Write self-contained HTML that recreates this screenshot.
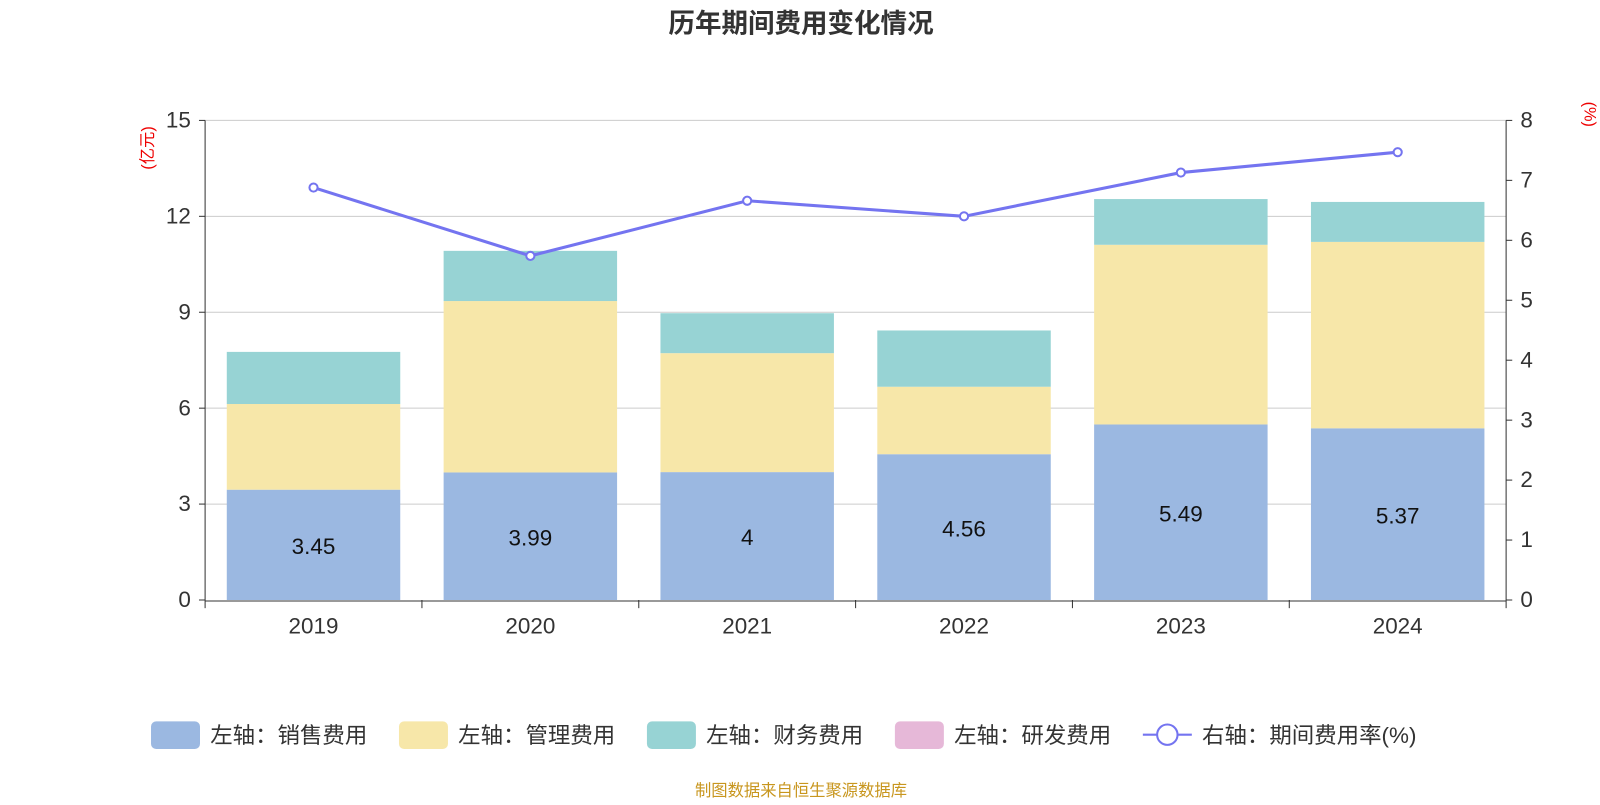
<!DOCTYPE html>
<html><head><meta charset="utf-8">
<style>
html,body{margin:0;padding:0;background:#fff;}
body{width:1600px;height:800px;overflow:hidden;font-family:"Liberation Sans","Noto Sans CJK SC",sans-serif;}
</style></head>
<body>
<svg id="chart" width="1600" height="800" xmlns="http://www.w3.org/2000/svg" font-family="Liberation Sans, Noto Sans CJK SC, sans-serif">
<g transform="scale(1.0204)">
<text x="785" y="32" text-anchor="middle" font-size="26" font-weight="bold" fill="#333">历年期间费用变化情况</text>
<text transform="translate(150,145) rotate(-90)" text-anchor="middle" font-size="16" fill="#e00">(亿元)</text>
<text transform="translate(1553,112) rotate(90)" text-anchor="middle" font-size="16" fill="#e00">(%)</text>
<g id="grid"></g><g id="bars"></g><g id="line"></g><g id="axes"></g>
<g id="legend"></g>
<text x="785" y="780" text-anchor="middle" font-size="16" fill="#c8961e">制图数据来自恒生聚源数据库</text>
</g>
</svg>
<script>
const categories=["2019","2020","2021","2022","2023","2024"];
const sales=[3.45,3.99,4,4.56,5.49,5.37];
const mgmt=[2.68,5.36,3.72,2.11,5.62,5.83];
const finance=[1.63,1.57,1.25,1.76,1.43,1.25];
const rnd=[0,0,0,0,0,0];
const rate=[6.88,5.74,6.66,6.40,7.13,7.47];
const leftTicks=[0,3,6,9,12,15];
const rightTicks=[0,1,2,3,4,5,6,7,8];

const NS="http://www.w3.org/2000/svg";
const X0=201,X1=1476,Y0=588,Y1=118;
const bw=(X1-X0)/categories.length;
const yL=v=>Y0-(v/15)*(Y0-Y1);
const yR=v=>Y0-(v/8)*(Y0-Y1);
const xc=i=>X0+bw*(i+0.5);
function mk(tag,attrs,parent,txt){const e=document.createElementNS(NS,tag);for(const k in attrs)e.setAttribute(k,attrs[k]);if(txt!==undefined)e.textContent=txt;document.getElementById(parent).appendChild(e);return e;}

leftTicks.forEach(v=>{
 if(v>0){const g=mk('line',{x1:X0,x2:X1,y1:yL(v),y2:yL(v),stroke:'#ccc','stroke-width':1},'grid');
 
 }
 const t=mk('text',{x:X0-14,y:yL(v)+7,'text-anchor':'end','font-size':22,fill:'#333'},'axes',v);
 
 
 mk('line',{x1:X0-6,x2:X0,y1:yL(v),y2:yL(v),stroke:'#333'},'axes');
});
rightTicks.forEach(v=>{
 const t=mk('text',{x:X1+14,y:yR(v)+7,'text-anchor':'start','font-size':22,fill:'#333'},'axes',v);
 
 
 mk('line',{x1:X1,x2:X1+6,y1:yR(v),y2:yR(v),stroke:'#333'},'axes');
});
mk('line',{x1:X0,x2:X0,y1:Y1,y2:Y0,stroke:'#333'},'axes');
mk('line',{x1:X1,x2:X1,y1:Y1,y2:Y0,stroke:'#333'},'axes');
mk('line',{x1:X0,x2:X1,y1:Y0+1,y2:Y0+1,stroke:'#333'},'axes');
for(let i=0;i<=categories.length;i++)mk('line',{x1:X0+bw*i,x2:X0+bw*i,y1:Y0,y2:Y0+8,stroke:'#333'},'axes');
categories.forEach((c,i)=>{
 const t=mk('text',{x:xc(i),y:621,'text-anchor':'middle','font-size':22,fill:'#333'},'axes',c);
 
 
});

const series=[[sales,'#9bb8e1','sales'],[mgmt,'#f7e7a9','mgmt'],[finance,'#97d3d4','finance'],[rnd,'#e6b8d8','rnd']];
const W=170;
categories.forEach((c,i)=>{
 let base=0;
 series.forEach(([arr,col,nm])=>{
  const v=arr[i];if(v<=0)return;
  const r=mk('rect',{x:xc(i)-W/2,y:yL(base+v),width:W,height:yL(base)-yL(base+v),fill:col},'bars');
  
  
  base+=v;
 });
 const t=mk('text',{x:xc(i),y:(yL(0)+yL(sales[i]))/2+9,'text-anchor':'middle','font-size':22,fill:'#111'},'bars',sales[i]);
 
 
});

const pts=rate.map((v,i)=>xc(i)+','+yR(v)).join(' ');
const pl=mk('polyline',{points:pts,fill:'none',stroke:'#7474f0','stroke-width':3},'line');


rate.forEach((v,i)=>{
 const c=mk('circle',{cx:xc(i),cy:yR(v),r:4,fill:'#fff',stroke:'#7474f0','stroke-width':2},'line');
 
 
});

const leg=[['box','#9bb8e1','左轴：销售费用',148],['box','#f7e7a9','左轴：管理费用',391],['box','#97d3d4','左轴：财务费用',634],['box','#e6b8d8','左轴：研发费用',877],['line','#7474f0','右轴：期间费用率(%)',1120]];
leg.forEach(([t,col,lab,x])=>{
 if(t==='box'){const r=mk('rect',{x:x,y:707,width:48,height:27,rx:5,fill:col},'legend');
  
  }
 else{mk('line',{x1:x,x2:x+48,y1:720,y2:720,stroke:col,'stroke-width':2},'legend');
  const c=mk('circle',{cx:x+24,cy:720,r:10,fill:'#fff',stroke:col,'stroke-width':2},'legend');
  
  }
 const tx=mk('text',{x:x+58,y:728,'font-size':22,fill:'#333'},'legend',lab);
 
 
});
</script>
</body></html>
